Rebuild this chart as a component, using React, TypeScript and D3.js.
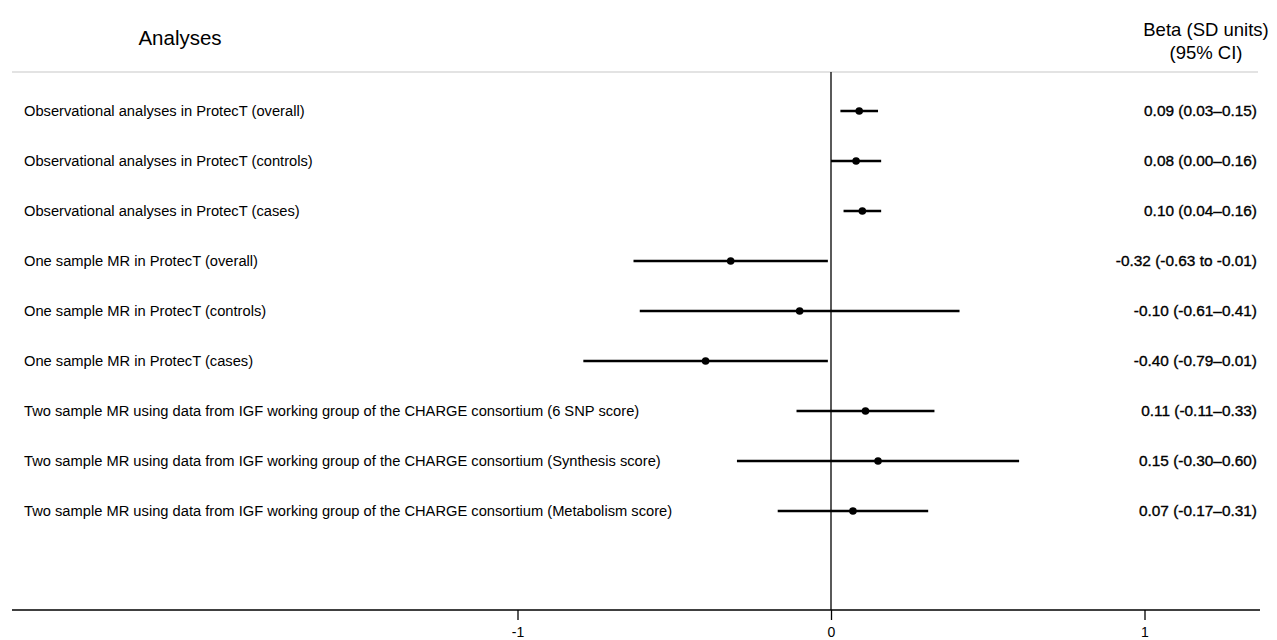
import React, { useEffect, useRef } from 'react';
import * as d3 from 'd3';

const analyses = [
  'Observational analyses in ProtecT (overall)',
  'Observational analyses in ProtecT (controls)',
  'Observational analyses in ProtecT (cases)',
  'One sample MR in ProtecT (overall)',
  'One sample MR in ProtecT (controls)',
  'One sample MR in ProtecT (cases)',
  'Two sample MR using data from IGF working group of the CHARGE consortium (6 SNP score)',
  'Two sample MR using data from IGF working group of the CHARGE consortium (Synthesis score)',
  'Two sample MR using data from IGF working group of the CHARGE consortium (Metabolism score)',
];
const beta = [0.09, 0.08, 0.1, -0.32, -0.1, -0.4, 0.11, 0.15, 0.07];
const lower = [0.03, 0.0, 0.04, -0.63, -0.61, -0.79, -0.11, -0.3, -0.17];
const upper = [0.15, 0.16, 0.16, -0.01, 0.41, -0.01, 0.33, 0.6, 0.31];
const ciLabels = [
  '0.09 (0.03\u20130.15)',
  '0.08 (0.00\u20130.16)',
  '0.10 (0.04\u20130.16)',
  '-0.32 (-0.63 to -0.01)',
  '-0.10 (-0.61\u20130.41)',
  '-0.40 (-0.79\u20130.01)',
  '0.11 (-0.11\u20130.33)',
  '0.15 (-0.30\u20130.60)',
  '0.07 (-0.17\u20130.31)',
];
const xTicks = [-1, 0, 1];

const W = 1277;
const H = 640;
const FONT = '"Liberation Sans", Arial, Helvetica, sans-serif';

export default function App() {
  const svgRef = useRef<SVGSVGElement>(null);

  useEffect(() => {
    const svg = d3.select(svgRef.current);
    svg.selectAll('*').remove();

    const data = analyses.map((name, i) => ({
      name,
      beta: beta[i],
      lo: lower[i],
      hi: upper[i],
      label: ciLabels[i],
    }));

    // x: 0 sits at 831, one unit is ~313.5px
    const x = d3.scaleLinear().domain([-1, 1]).range([517.5, 1144.5]);
    const y = d3.scalePoint<string>()
      .domain(analyses)
      .range([111, 511]);

    const axisY = 610;

    // header
    svg.append('text')
      .attr('x', 180).attr('y', 45)
      .attr('text-anchor', 'middle')
      .attr('font-size', 20.5)
      .attr('font-family', FONT)
      .text('Analyses');
    svg.append('text')
      .attr('x', 1206).attr('y', 36)
      .attr('text-anchor', 'middle')
      .attr('font-size', 18.5)
      .attr('font-family', FONT)
      .text('Beta (SD units)');
    svg.append('text')
      .attr('x', 1206).attr('y', 59)
      .attr('text-anchor', 'middle')
      .attr('font-size', 18.5)
      .attr('font-family', FONT)
      .text('(95% CI)');

    svg.append('line')
      .attr('x1', 12).attr('x2', 1258)
      .attr('y1', 72).attr('y2', 72)
      .attr('stroke', '#c8c8c8')
      .attr('stroke-width', 1.2);

    // null line
    svg.append('line')
      .attr('x1', x(0)).attr('x2', x(0))
      .attr('y1', 72).attr('y2', axisY)
      .attr('stroke', '#000')
      .attr('stroke-width', 1.3);

    // rows
    const rows = svg.append('g').selectAll('g')
      .data(data)
      .enter()
      .append('g');

    rows.append('text')
      .attr('x', 24)
      .attr('y', d => y(d.name)!)
      .attr('dy', '0.35em')
      .attr('font-size', 14.7)
      .attr('font-family', FONT)
      .text(d => d.name);

    rows.append('line')
      .attr('x1', d => x(d.lo))
      .attr('x2', d => x(d.hi))
      .attr('y1', d => y(d.name)!)
      .attr('y2', d => y(d.name)!)
      .attr('stroke', '#000')
      .attr('stroke-width', 2.5);

    rows.append('circle')
      .attr('cx', d => x(d.beta))
      .attr('cy', d => y(d.name)!)
      .attr('r', 3.8)
      .attr('fill', '#000');

    rows.append('text')
      .attr('x', 1257)
      .attr('y', d => y(d.name)!)
      .attr('dy', '0.35em')
      .attr('text-anchor', 'end')
      .attr('font-size', 15.4)
      .attr('font-family', FONT)
      .attr('stroke', '#000')
      .attr('stroke-width', 0.35)
      .text(d => d.label);

    // bottom axis
    svg.append('line')
      .attr('x1', 12).attr('x2', 1260)
      .attr('y1', axisY).attr('y2', axisY)
      .attr('stroke', '#000')
      .attr('stroke-width', 1.6);

    const axis = svg.append('g')
      .attr('transform', `translate(0, ${axisY})`)
      .call(d3.axisBottom(x).tickValues(xTicks).tickSize(10).tickFormat(d3.format('d')));
    axis.select('.domain').remove();
    axis.selectAll('line').attr('stroke', '#000').attr('stroke-width', 1.3);
    axis.selectAll('text')
      .attr('font-size', 14)
      .attr('font-family', FONT)
      .attr('fill', '#000')
      .attr('dy', '1.0em')
      .text(d => String(d));
  }, []);

  return (
    <svg
      ref={svgRef}
      width={W}
      height={H}
      style={{ display: 'block', position: 'absolute', left: 0, top: 0, background: '#fff' }}
    />
  );
}
